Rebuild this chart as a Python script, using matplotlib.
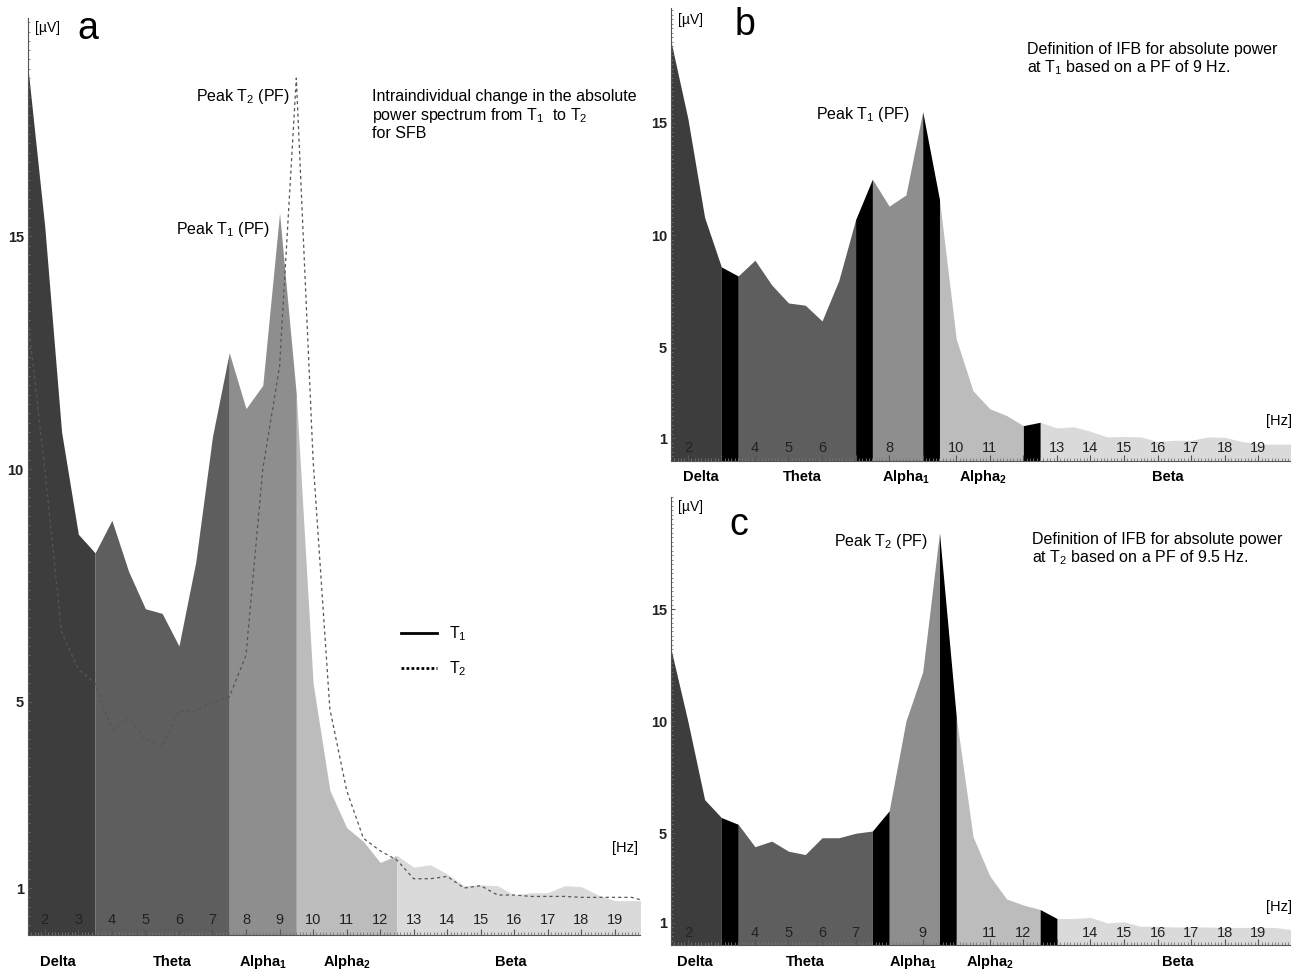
import numpy as np
import matplotlib
matplotlib.use('Agg')
import matplotlib.pyplot as plt
from matplotlib.ticker import MultipleLocator
from matplotlib.lines import Line2D

plt.rcParams['font.family'] = ['Liberation Sans', 'DejaVu Sans']
plt.rcParams['mathtext.default'] = 'regular'

# spectrum sampled every 0.5 Hz
freq = np.arange(1.5, 20.01, 0.5)
t1 = [18.6, 15.2, 10.8, 8.6, 8.2, 8.9, 7.8, 7.0, 6.9, 6.2, 8.0, 10.7, 12.5, 11.3,
      11.8, 15.5, 11.6, 5.4, 3.1, 2.3, 2.0, 1.55, 1.7, 1.45, 1.5, 1.3, 1.05, 1.07,
      1.05, 0.85, 0.9, 0.9, 1.05, 1.03, 0.85, 0.73, 0.73, 0.73]
t2 = [13.2, 10.0, 6.5, 5.7, 5.4, 4.4, 4.65, 4.2, 4.05, 4.8, 4.8, 5.0, 5.1, 6.0,
      10.0, 12.2, 18.4, 10.2, 4.85, 3.1, 2.07, 1.8, 1.6, 1.2, 1.2, 1.25, 1.0, 1.05,
      0.85, 0.85, 0.82, 0.82, 0.82, 0.8, 0.8, 0.8, 0.8, 0.7]

band_names = ['Delta', 'Theta', 'Alpha$_1$', 'Alpha$_2$', 'Beta']
band_colors = ['#3d3d3d', '#5e5e5e', '#8e8e8e', '#bcbcbc', '#dadada']

# band edges (Hz); b and c have 0.5 Hz transition strips between bands
edges_a = [(1.5, 3.5), (3.5, 7.5), (7.5, 9.5), (9.5, 12.5), (12.5, 20.0)]
edges_b = [(1.5, 3.0), (3.5, 7.0), (7.5, 9.0), (9.5, 12.0), (12.5, 20.0)]
gaps_b = [(3.0, 3.5), (7.0, 7.5), (9.0, 9.5), (12.0, 12.5)]
edges_c = [(1.5, 3.0), (3.5, 7.5), (8.0, 9.5), (10.0, 12.5), (13.0, 20.0)]
gaps_c = [(3.0, 3.5), (7.5, 8.0), (9.5, 10.0), (12.5, 13.0)]

hz_ticks = list(range(2, 20))
hidden_b = [3, 7, 9, 12]
hidden_c = [3, 8, 10, 13]

name_x_a = [2.4, 5.8, 8.5, 11.0, 15.9]
name_x_b = [2.4, 5.4, 8.5, 10.8, 16.3]
name_x_c = [2.2, 5.5, 8.7, 11.0, 16.6]

TXT = 11.5


def fill_band(ax, vals, lo, hi, color):
    m = (freq >= lo - 1e-9) & (freq <= hi + 1e-9)
    ax.fill_between(freq[m], 0, np.array(vals)[m], color=color, lw=0, zorder=1)


def setup(ax, xmax, ymax, hidden, pad, name_x, name_off):
    ax.set_xlim(1.5, xmax)
    ax.set_ylim(0, ymax)
    for s in ['top', 'right']:
        ax.spines[s].set_visible(False)
    for s in ['left', 'bottom']:
        ax.spines[s].set_color('#555555')
        ax.spines[s].set_linewidth(0.8)
    ax.set_xticks(hz_ticks)
    ax.set_xticklabels(['' if h in hidden else str(h) for h in hz_ticks])
    ax.xaxis.set_minor_locator(MultipleLocator(0.1))
    ax.tick_params(axis='x', which='major', direction='in', length=4, pad=pad,
                   labelsize=10.5, colors='#555555', labelcolor='#222222')
    ax.tick_params(axis='x', which='minor', direction='in', length=2, color='#777777')
    ax.set_yticks([1, 5, 10, 15])
    for lbl in ax.get_yticklabels():
        lbl.set_fontweight('bold')
    ax.yaxis.set_minor_locator(MultipleLocator(0.2))
    ax.tick_params(axis='y', which='major', direction='in', length=3, pad=3,
                   labelsize=10.5, colors='#555555', labelcolor='#222222')
    ax.tick_params(axis='y', which='minor', direction='in', length=1.5, color='#777777')
    for nm, nx in zip(band_names, name_x):
        ax.annotate(nm, (nx, 0), xycoords=('data', 'axes fraction'),
                    xytext=(0, -name_off), textcoords='offset points',
                    ha='center', va='center', fontsize=10.5, fontweight='bold',
                    annotation_clip=False)


fig = plt.figure(figsize=(12.98, 9.71), dpi=100)
ax_a = fig.add_axes([0.0216, 0.0375, 0.4715, 0.9444])
ax_b = fig.add_axes([0.517, 0.5257, 0.4769, 0.466])
ax_c = fig.add_axes([0.517, 0.0264, 0.4769, 0.4618])

# ---- panel a
for (lo, hi), col in zip(edges_a, band_colors):
    fill_band(ax_a, t1, lo, hi, col)
ax_a.plot(freq, t2, color='#555555', lw=0.9, ls=(0, (2.5, 2.5)), zorder=3)
setup(ax_a, 19.75, 19.7, [], -15.5, name_x_a, 19.5)
ax_a.text(9.32, 18.0, 'Peak T$_2$ (PF)', ha='right', va='center', fontsize=TXT)
ax_a.text(8.72, 15.15, 'Peak T$_1$ (PF)', ha='right', va='center', fontsize=TXT)
ax_a.text(0.562, 0.922, 'Intraindividual change in the absolute\npower spectrum from T$_1$  to T$_2$\nfor SFB',
          transform=ax_a.transAxes, ha='left', va='top', fontsize=TXT, linespacing=1.1)
ax_a.text(0.011, 0.989, '[µV]', transform=ax_a.transAxes, ha='left', va='center', fontsize=10)
ax_a.text(0.08, 0.988, 'a', transform=ax_a.transAxes, ha='left', va='center', fontsize=27)
ax_a.text(0.997, 0.094, '[Hz]', transform=ax_a.transAxes, ha='right', va='center', fontsize=10.5)
handles = [Line2D([], [], color='black', lw=2),
           Line2D([], [], color='black', lw=2, ls=(0, (1, 0.8)))]
ax_a.legend(handles, ['T$_1$', 'T$_2$'], loc='center left', bbox_to_anchor=(0.597, 0.309),
            frameon=False, fontsize=TXT, handlelength=2.2, handletextpad=0.8,
            labelspacing=1.0, borderpad=0)

# ---- panel b
for (lo, hi), col in zip(edges_b, band_colors):
    fill_band(ax_b, t1, lo, hi, col)
for lo, hi in gaps_b:
    fill_band(ax_b, t1, lo, hi, 'black')
setup(ax_b, 19.95, 20.1, hidden_b, -14, name_x_b, 12)
ax_b.text(8.63, 15.35, 'Peak T$_1$ (PF)', ha='right', va='center', fontsize=TXT)
ax_b.text(0.575, 0.925, 'Definition of IFB for absolute power\nat T$_1$ based on a PF of 9 Hz.',
          transform=ax_b.transAxes, ha='left', va='top', fontsize=TXT, linespacing=1.1)
ax_b.text(0.011, 0.973, '[µV]', transform=ax_b.transAxes, ha='left', va='center', fontsize=10)
ax_b.text(0.103, 0.962, 'b', transform=ax_b.transAxes, ha='left', va='center', fontsize=27)
ax_b.text(1.003, 0.087, '[Hz]', transform=ax_b.transAxes, ha='right', va='center', fontsize=10.5)

# ---- panel c
for (lo, hi), col in zip(edges_c, band_colors):
    fill_band(ax_c, t2, lo, hi, col)
for lo, hi in gaps_c:
    fill_band(ax_c, t2, lo, hi, 'black')
setup(ax_c, 19.95, 20.0, hidden_c, -14, name_x_c, 12)
ax_c.text(9.17, 18.0, 'Peak T$_2$ (PF)', ha='right', va='center', fontsize=TXT)
ax_c.text(0.583, 0.922, 'Definition of IFB for absolute power\nat T$_2$ based on a PF of 9.5 Hz.',
          transform=ax_c.transAxes, ha='left', va='top', fontsize=TXT, linespacing=1.1)
ax_c.text(0.011, 0.978, '[µV]', transform=ax_c.transAxes, ha='left', va='center', fontsize=10)
ax_c.text(0.095, 0.938, 'c', transform=ax_c.transAxes, ha='left', va='center', fontsize=27)
ax_c.text(1.003, 0.086, '[Hz]', transform=ax_c.transAxes, ha='right', va='center', fontsize=10.5)

fig.savefig('out.png', dpi=100)
